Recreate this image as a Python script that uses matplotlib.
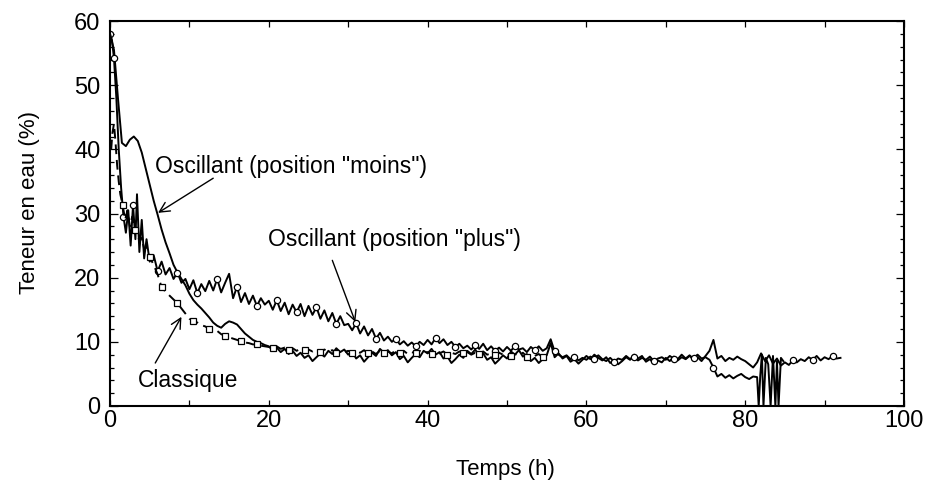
import numpy as np
import matplotlib
matplotlib.use('Agg')
import matplotlib.pyplot as plt
from matplotlib.ticker import MultipleLocator

plt.rcParams['font.family'] = ['Liberation Sans', 'DejaVu Sans']

# --- Oscillant (position "moins") : sampled every 0.5 h from 0 to 92 h
moins_t0 = 0.0
moins_dt = 0.5
moins_v = [
    58.0, 55.5, 48.0, 41.0, 40.5, 41.5, 42.0, 41.3, 39.5, 37.0,
    34.5, 32.0, 29.8, 27.5, 25.5, 23.8, 22.0, 20.8, 19.8, 18.8,
    17.5, 16.5, 15.8, 15.2, 14.5, 13.8, 13.0, 12.5, 12.2, 12.8,
    13.2, 13.0, 12.7, 12.0, 11.3, 10.8, 10.3, 10.0, 9.8, 9.5,
    9.3, 8.7, 9.1, 8.4, 8.9, 8.1, 8.6, 7.8, 8.3, 7.5,
    7.9, 7.0, 7.6, 8.2, 7.7, 8.6, 8.1, 9.0, 8.4, 8.8,
    8.0, 8.5, 7.4, 7.9, 6.9, 7.6, 8.3, 7.8, 8.9, 8.3,
    8.7, 7.9, 8.4, 7.3, 7.8, 6.8, 7.5, 8.1, 7.6, 8.6,
    8.2, 8.9, 8.0, 8.4, 7.4, 7.7, 6.7, 7.3, 8.0, 7.5,
    8.6, 8.1, 8.8, 7.8, 8.2, 7.2, 7.6, 6.6, 7.2, 7.9,
    7.4, 8.5, 8.0, 8.7, 7.7, 8.1, 7.0, 7.5, 6.7, 7.3,
    7.9, 9.8, 7.6, 8.2, 7.4, 7.8, 6.9, 7.3, 6.6, 7.2,
    7.8, 7.3, 8.0, 7.5, 7.1, 7.6, 6.7, 7.2, 6.5, 7.0,
    7.6, 7.2, 8.0, 7.4, 7.8, 6.9, 7.3, 6.6, 7.1, 6.8,
    7.5, 7.0, 7.7, 7.3, 8.0, 7.4, 7.9, 7.1, 7.6, 7.0,
    7.8, 8.6, 10.3, 7.4, 7.8, 7.0, 7.5, 7.2, 7.7, 7.3,
    7.0, 6.5, 6.0, 6.8, 8.2, 7.0, 7.9, 6.6, 7.4, 6.3,
    6.8, 6.4, 7.1, 6.8, 7.3, 7.0, 7.6, 7.2, 7.8, 7.1,
    7.6, 7.3, 7.8, 7.4, 7.5,
]

# --- Oscillant (position "plus")
plus_early_t = [0, 0.25, 0.5, 0.8, 1.1, 1.4, 1.7, 2.0, 2.3, 2.6, 2.9, 3.2, 3.4, 3.7, 4.0, 4.3, 4.6, 5.0]
plus_early_v = [58, 57, 54.2, 48, 40, 34, 29.5, 27, 30.5, 25, 31.3, 26, 33, 24, 29, 23, 26, 22.5]
plus_t0 = 5.5
plus_dt = 0.5
plus_v = [
    23.5, 21.0, 22.5, 20.5, 21.5, 19.8, 20.8, 19.2, 19.8,
    18.2, 19.6, 17.6, 19.0, 17.9, 19.5, 18.0, 19.8, 17.7, 19.2,
    20.6, 16.8, 18.6, 16.2, 17.6, 15.9, 17.2, 15.6, 16.8, 15.8,
    16.4, 15.0, 16.5, 14.8, 16.1, 14.3, 15.8, 14.6, 15.9, 14.0,
    15.6, 14.2, 15.4, 13.6, 14.9, 13.2, 14.5, 12.8, 14.0, 12.6,
    12.8, 11.8, 12.9, 11.3, 12.4, 11.0, 12.0, 10.5, 11.4, 10.2,
    10.8, 10.0, 10.5, 9.6, 10.1, 9.4, 9.9, 9.3, 10.0, 9.5,
    10.3, 9.6, 10.6, 9.8, 10.4, 9.5, 10.0, 9.2, 9.7, 9.0,
    9.4, 8.8, 9.5, 8.9, 9.7, 8.7, 9.3, 8.6, 9.1, 8.5,
    9.2, 8.6, 9.4, 8.8, 9.0, 8.4, 9.2, 8.7, 9.3, 8.6,
    9.0, 10.4, 8.5, 8.0, 7.6, 7.9, 7.3, 7.7, 7.1, 7.5,
    7.2, 7.7, 7.4, 7.9, 7.3, 7.0, 7.5, 6.9, 7.4, 7.2,
    7.8, 7.3, 7.6, 7.1, 7.5, 7.2, 7.7, 7.0, 7.4, 7.6,
    7.2, 7.8, 7.4, 7.1, 7.6, 7.3, 7.8, 7.5, 8.0, 7.4,
    7.6, 7.2, 6.0, 4.6, 5.0, 4.4, 4.8, 4.3, 4.7, 5.0,
    4.5, 4.2, 4.6,
]
plus_late_t = [81.5, 81.7, 81.9, 82.1, 82.3, 82.6, 82.9, 83.2, 83.5, 83.8, 84.0, 84.2, 84.5, 84.8]
plus_late_v = [4.5, 0.0, 4.8, 8.0, 0.0, 7.5, 6.5, 0.0, 7.8, 0.0, 7.0, 0.0, 7.5, 7.0]

# --- Classique
clas_early_t = [0.15, 0.3, 0.5, 0.7, 0.9, 1.1, 1.3, 1.6, 1.9, 2.2, 2.5, 2.8, 3.1, 3.4, 3.7, 4.0, 4.3, 4.6, 5.0]
clas_early_v = [40, 42.5, 44, 41, 37.5, 35, 33, 31.3, 29, 30.5, 28, 29.5, 27.4, 27.8, 25.5, 26.2, 24.5, 24.8, 23.2]
clas_t0 = 5.5
clas_dt = 0.5
clas_v = [
    22.0, 20.5, 18.5, 17.8, 17.2, 16.6, 16.0, 15.2, 14.4,
    13.6, 13.3, 13.0, 12.6, 12.4, 12.0, 11.8, 11.7, 11.2, 10.9,
    10.7, 10.5, 10.3, 10.1, 9.9, 9.8, 9.6, 9.6, 9.4, 9.3,
    9.2, 9.0, 9.3, 8.9, 9.1, 8.7, 9.0, 8.6, 8.9, 8.7,
    8.8, 8.5, 8.9, 8.4, 8.8, 8.5, 8.7, 8.3, 8.6, 8.4,
    8.6, 8.2, 8.5, 8.3, 8.7, 8.2, 8.5, 8.1, 8.6, 8.3,
    8.5, 8.2, 8.7, 8.3, 8.6, 8.1, 8.4, 8.2, 8.6, 8.3,
    8.4, 8.1, 8.6, 8.2, 8.5, 8.0, 8.3, 8.1, 8.5, 8.2,
    8.4, 8.0, 8.3, 8.1, 8.5, 8.0, 8.2, 7.9, 8.3, 8.0,
    8.2, 7.8, 8.1, 7.9, 8.3, 7.7, 8.0, 7.8, 8.1, 7.6, 7.8,
]

# assemble time axes
moins_t = moins_t0 + moins_dt * np.arange(len(moins_v))
plus_t = np.concatenate([plus_early_t, plus_t0 + plus_dt * np.arange(len(plus_v)), plus_late_t])
plus_y = np.concatenate([plus_early_v, plus_v, plus_late_v])
clas_t = np.concatenate([clas_early_t, clas_t0 + clas_dt * np.arange(len(clas_v))])
clas_y = np.concatenate([clas_early_v, clas_v])

n_pe = len(plus_early_t)
plus_marks = [2, 6, 10] + list(range(n_pe + 1, n_pe + len(plus_v) - 8, 5))
n_ce = len(clas_early_t)
clas_marks = [7, 12, 18] + list(range(n_ce + 2, len(clas_t), 4))
moins_marks = [0] + list(range(172, len(moins_v), 5))

fig = plt.figure(figsize=(9.28, 4.97), dpi=100)
ax = fig.add_axes([110 / 928, 91 / 497, 794 / 928, 385 / 497])

lw = 1.4
mk = dict(markersize=4.5, markerfacecolor='white', markeredgewidth=0.9)
ax.plot(moins_t, moins_v, color='black', lw=lw, marker='o', markevery=moins_marks, **mk)
ax.plot(plus_t, plus_y, color='black', lw=lw, marker='o', markevery=plus_marks, **mk)
ax.plot(clas_t, clas_y, color='black', lw=lw, ls=(0, (5, 3)), marker='s', markevery=clas_marks, **mk)

ax.set_xlim(0, 100)
ax.set_ylim(0, 60)
ax.xaxis.set_major_locator(MultipleLocator(20))
ax.xaxis.set_minor_locator(MultipleLocator(10))
ax.yaxis.set_major_locator(MultipleLocator(10))
ax.yaxis.set_minor_locator(MultipleLocator(2))
ax.tick_params(which='both', direction='in', top=True, right=True, labelsize=17, width=0.9)
ax.tick_params(axis='x', which='both', length=4, pad=3)
ax.tick_params(axis='y', which='major', length=6, pad=7)
ax.tick_params(axis='y', which='minor', length=3)
for s in ax.spines.values():
    s.set_linewidth(1.5)

# arrows
arrow = dict(arrowstyle='->', color='black', lw=1.0, mutation_scale=18, shrinkA=0, shrinkB=0)
ax.annotate('', xy=(6.05, 30.1), xytext=(13.0, 35.5), arrowprops=arrow)
ax.annotate('', xy=(30.9, 13.1), xytext=(28.0, 22.7), arrowprops=arrow)
ax.annotate('', xy=(9.0, 13.9), xytext=(5.7, 6.7), arrowprops=arrow)

# labels of the curves
ax.text(5.7, 37.4, 'Oscillant (position "moins")', fontsize=16.5, ha='left', va='center')
ax.text(19.9, 25.9, 'Oscillant (position "plus")', fontsize=16.5, ha='left', va='center')
ax.text(3.5, 3.9, 'Classique', fontsize=16.5, ha='left', va='center')

fig.text(505 / 928, 1 - 469 / 497, 'Temps (h)', fontsize=16, ha='center', va='center')
fig.text(30 / 928, 1 - 202 / 497, 'Teneur en eau (%)', fontsize=16, ha='center', va='center', rotation=90)

fig.savefig('out.png', dpi=100)
